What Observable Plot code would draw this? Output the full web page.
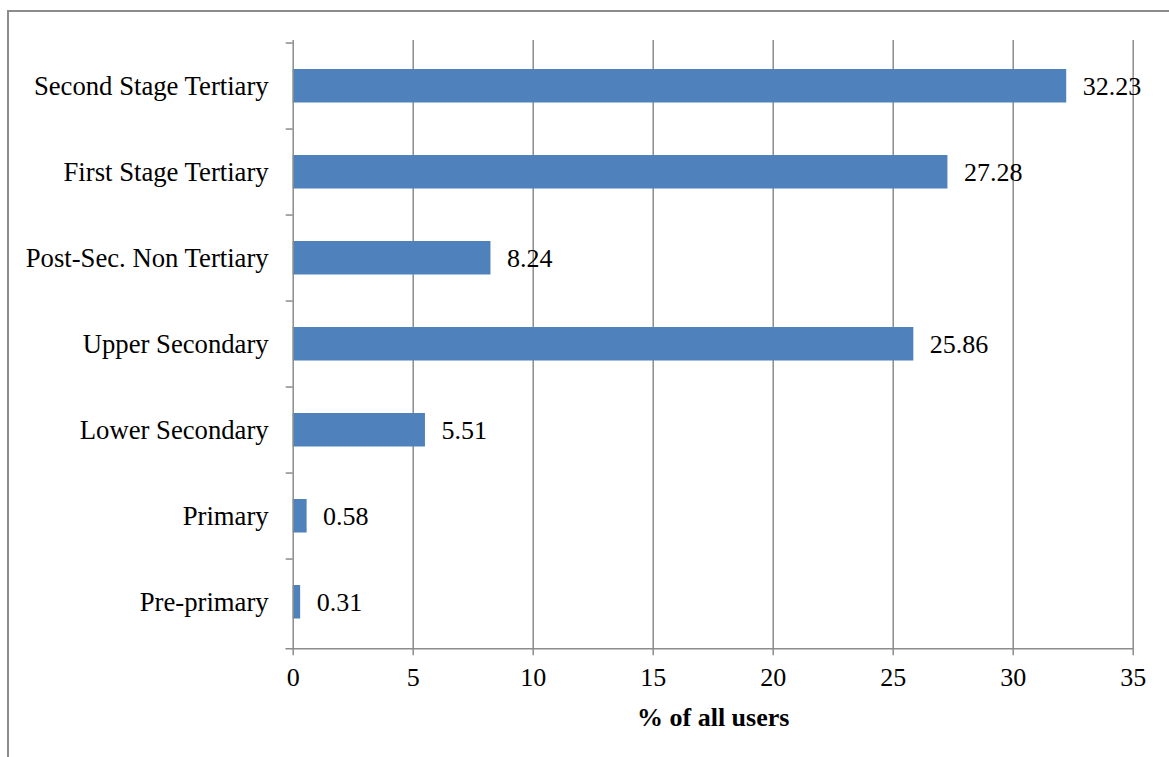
<!DOCTYPE html>
<html>
<head>
<meta charset="utf-8">
<script src="https://cdn.jsdelivr.net/npm/d3@7"></script>
<script src="https://cdn.jsdelivr.net/npm/@observablehq/plot@0.6"></script>
<style>
  html, body { margin: 0; padding: 0; background: #fff; }
  #wrap { position: relative; width: 1169px; height: 757px; overflow: hidden; }
  #frame { position: absolute; left: 7px; top: 10px; width: 1300px; height: 900px;
           border-top: 2px solid #8c8c8c; border-left: 2px solid #8c8c8c; }
  #chart { position: absolute; left: 0; top: 0; line-height: 0; }
  #chart svg { display: block; }
</style>
</head>
<body>
<div id="wrap"><div id="frame"></div><div id="chart"></div></div>
<script>
const categories = [
  "Second Stage Tertiary",
  "First Stage Tertiary",
  "Post-Sec. Non Tertiary",
  "Upper Secondary",
  "Lower Secondary",
  "Primary",
  "Pre-primary"
];
const shares = [32.23, 27.28, 8.24, 25.86, 5.51, 0.58, 0.31];
const xTicks = [0, 5, 10, 15, 20, 25, 30, 35];
const axisTitle = "% of all users";

const data = categories.map((c, i) => ({category: c, value: shares[i]}));

const W = 1169, H = 757;
const mL = 292.7, mR = W - 1132.7, mT = 40, mB = H - 648.3;
const bw = (H - mB - mT) / categories.length;
const font = "'Liberation Serif', 'Times New Roman', serif";
const grey = "#8c8c8c";

const plot = Plot.plot({
  width: W,
  height: H,
  marginLeft: mL,
  marginRight: mR,
  marginTop: mT,
  marginBottom: mB,
  style: {fontFamily: font, fontSize: "26px", color: "#000", background: "transparent", overflow: "visible"},
  x: {domain: [0, 35], ticks: xTicks},
  y: {domain: categories, padding: 0},
  marks: [
    Plot.gridX(xTicks.filter(t => t > 0), {stroke: grey, strokeOpacity: 1, strokeWidth: 1.5}),
    Plot.barX(data, {y: "category", x: "value", fill: "#4F81BD", insetTop: 26, insetBottom: 26.5}),
    Plot.ruleX([0], {stroke: grey, strokeWidth: 1.5}),
    Plot.ruleY(categories, {x1: 0, x2: 0, insetLeft: -7, dy: -bw / 2, stroke: grey, strokeWidth: 1.5}),
    Plot.frame({anchor: "bottom", insetLeft: -7, stroke: grey, strokeWidth: 1.5}),
    Plot.text(data, {y: "category", x: "value", text: d => d.value.toFixed(2), textAnchor: "start", dx: 16, fontSize: 26, fill: "#000"}),
    Plot.axisX({ticks: xTicks, tickSize: 7, tickPadding: 12, stroke: grey, strokeWidth: 1.5, fontSize: 26, label: null, tickFormat: d => String(d)}),
    Plot.axisY({tickSize: 0, tickPadding: 24.5, fontSize: 26.7, label: null}),
    Plot.text([axisTitle], {frameAnchor: "bottom", dy: 69, text: d => d, fontWeight: "bold", fontSize: 26, textAnchor: "middle", lineAnchor: "middle", fill: "#000"})
  ]
});
document.getElementById("chart").appendChild(plot);
</script>
</body>
</html>
